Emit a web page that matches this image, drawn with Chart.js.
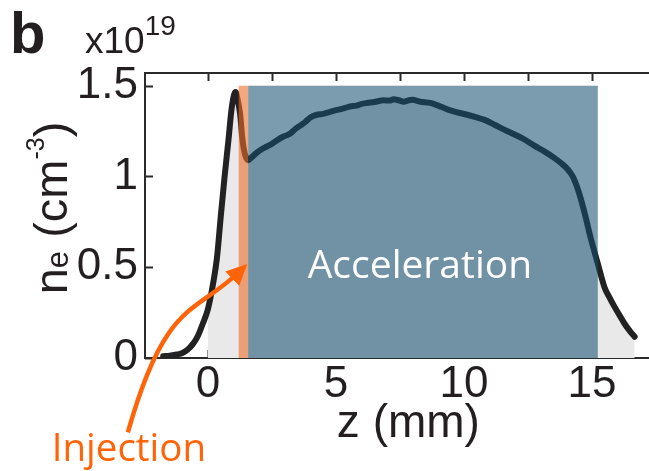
<!DOCTYPE html>
<html>
<head>
<meta charset="utf-8">
<script src="https://cdn.jsdelivr.net/npm/chart.js@4.4.1/dist/chart.umd.min.js"></script>
<style>
html,body{margin:0;padding:0;background:#fff;overflow:hidden}
canvas{display:block}
</style>
</head>
<body>
<canvas id="c" width="649" height="471"></canvas>
<script>
// ---- data ----
const zValues = [-1.75,-1.5,-1.2,-1.0,-0.8,-0.6,-0.4,-0.2,0.0,0.2,0.35,0.5,0.65,0.8,0.92,1.02,1.08,1.15,1.25,1.35,1.45,1.57,1.7,1.9,2.1,2.3,2.5,2.7,2.95,3.2,3.4,3.6,3.8,4.0,4.25,4.5,4.75,5.0,5.3,5.56,5.8,6.0,6.21,6.5,6.86,7.1,7.25,7.45,7.65,7.8,7.98,8.3,8.69,9.0,9.35,9.7,10.13,10.5,10.78,11.2,11.57,12.0,12.35,12.75,13.14,13.5,13.79,14.05,14.25,14.45,14.58,14.75,14.9,15.05,15.23,15.49,15.7,15.88,16.1,16.27,16.5,16.67];
const densityValues = [0.01,0.012,0.02,0.027,0.045,0.075,0.12,0.19,0.27,0.41,0.55,0.78,1.0,1.2,1.37,1.45,1.465,1.43,1.35,1.2,1.12,1.09,1.105,1.13,1.15,1.165,1.18,1.2,1.22,1.235,1.26,1.28,1.3,1.325,1.34,1.345,1.355,1.365,1.375,1.386,1.39,1.4,1.405,1.41,1.42,1.418,1.425,1.42,1.412,1.418,1.422,1.412,1.405,1.39,1.37,1.355,1.34,1.325,1.313,1.285,1.258,1.23,1.205,1.17,1.138,1.105,1.074,1.04,1.0,0.93,0.87,0.78,0.69,0.61,0.52,0.39,0.33,0.283,0.23,0.19,0.145,0.117];
const shadeFrom = 0;                       // grey fill under the profile starts here (mm)
const xTickValues = [0,2.5,5,7.5,10,12.5,15];
const xTickLabels = ['0','','5','','10','','15'];
const yTickValues = [0,0.5,1,1.5];
const yTickLabels = ['0','0.5','1','1.5'];
const regionNames = ['Injection','Acceleration'];
const regionStart = [1.2,1.57];
const regionEnd = [1.57,15.23];
const regionTop = [1.5,1.5];
const regionColors = ['rgba(238,110,40,0.6)','rgba(20,78,112,0.56)'];
// annotation anchors (data units)
const accelLabelAt = [8.28,0.44];
const injectLabelAt = [-3.09,-0.57];
const arrowZ = [-3.13,-1.65,-0.48,1.48];
const arrowN = [-0.41,0.33,0.24,0.51];

const AX_FONT = "'Liberation Sans', Arial, sans-serif";
const TXT_FONT = "'Open Sans', 'Noto Sans', sans-serif";
const AXIS_COLOR = '#2a2a2a';
const ORANGE = '#ff6408';

const profile = zValues.map((z,i)=>({x:z,y:densityValues[i]}));
const shaded = profile.filter(p=>p.x>=shadeFrom);

const decor = {
  id:'decor',
  beforeDatasetsDraw(chart){
    const {ctx, chartArea:a, scales:{x,y}} = chart;
    ctx.save();
    ctx.strokeStyle = AXIS_COLOR;
    ctx.lineWidth = 2;
    ctx.beginPath();
    ctx.moveTo(a.left, a.top); ctx.lineTo(a.right, a.top);
    ctx.moveTo(a.left, a.top-1); ctx.lineTo(a.left, a.bottom+1);
    ctx.moveTo(a.left-1, a.bottom); ctx.lineTo(a.right, a.bottom);
    xTickValues.forEach(v=>{
      const px = Math.round(x.getPixelForValue(v))+0.5;
      ctx.moveTo(px, a.bottom); ctx.lineTo(px, a.bottom-8);
      ctx.moveTo(px, a.top); ctx.lineTo(px, a.top+8);
    });
    yTickValues.forEach(v=>{
      const py = Math.round(y.getPixelForValue(v))+0.5;
      ctx.moveTo(a.left, py); ctx.lineTo(a.left+8, py);
    });
    ctx.stroke();
    ctx.restore();
  },
  afterDatasetsDraw(chart){
    const {ctx, scales:{x,y}} = chart;
    ctx.save();
    // shaded regions (drawn over the curve, semi-transparent)
    regionNames.forEach((n,i)=>{
      const x0 = x.getPixelForValue(regionStart[i]);
      const x1 = x.getPixelForValue(regionEnd[i]);
      const y0 = y.getPixelForValue(0);
      const y1 = y.getPixelForValue(regionTop[i]);
      ctx.fillStyle = regionColors[i];
      ctx.fillRect(x0, y1, x1-x0, y0-y1);
    });
    // Acceleration label
    ctx.fillStyle = '#ffffff';
    ctx.font = '39px ' + TXT_FONT;
    ctx.textAlign = 'center';
    ctx.textBaseline = 'alphabetic';
    ctx.fillText(regionNames[1], x.getPixelForValue(accelLabelAt[0]), y.getPixelForValue(accelLabelAt[1]));
    // Injection label
    ctx.fillStyle = ORANGE;
    ctx.font = '38.5px ' + TXT_FONT;
    ctx.fillText(regionNames[0], x.getPixelForValue(injectLabelAt[0]), y.getPixelForValue(injectLabelAt[1]));
    // arrow
    const P = arrowZ.map((z,i)=>[x.getPixelForValue(z), y.getPixelForValue(arrowN[i])]);
    ctx.strokeStyle = ORANGE;
    ctx.lineWidth = 4.5;
    ctx.lineCap = 'butt';
    const dx = P[3][0]-P[2][0], dy = P[3][1]-P[2][1];
    const L = Math.hypot(dx,dy), ux = dx/L, uy = dy/L;
    const headLen = 21, headW = 10;
    ctx.beginPath();
    ctx.moveTo(P[0][0],P[0][1]);
    ctx.bezierCurveTo(P[1][0],P[1][1],P[2][0],P[2][1],P[3][0]-ux*8,P[3][1]-uy*8);
    ctx.stroke();
    const tx = P[3][0]+ux*2, ty = P[3][1]+uy*2;
    const bx = tx-ux*headLen, by = ty-uy*headLen;
    ctx.fillStyle = ORANGE;
    ctx.beginPath();
    ctx.moveTo(tx,ty);
    ctx.lineTo(bx-uy*headW, by+ux*headW);
    ctx.lineTo(bx+uy*headW, by-ux*headW);
    ctx.closePath();
    ctx.fill();
    ctx.restore();
  },
  afterDraw(chart){
    const {ctx, chartArea:a, scales:{x}} = chart;
    ctx.save();
    ctx.fillStyle = '#231f20';
    ctx.textBaseline = 'alphabetic';
    // panel letter
    ctx.font = 'bold 58px ' + AX_FONT;
    ctx.textAlign = 'left';
    ctx.fillText('b', 10, 53);
    // exponent
    ctx.font = '37px ' + AX_FONT;
    ctx.fillText('x10', 85, 53);
    const w = ctx.measureText('x10').width;
    ctx.font = '28px ' + AX_FONT;
    ctx.fillText('19', 85+w, 35);
    // x title
    ctx.font = '46px ' + AX_FONT;
    ctx.textAlign = 'center';
    ctx.fillText('z (mm)', x.getPixelForValue(7.83), 437);
    // y title (rotated, with sub/superscripts)
    const parts = [
      {t:'n', s:47, d:0},
      {t:'e', s:31, d:1},
      {t:' (cm', s:47, d:0},
      {t:'-3', s:25, d:-23},
      {t:')', s:47, d:0}
    ];
    ctx.translate(67, 208);
    ctx.rotate(-Math.PI/2);
    ctx.textAlign = 'left';
    let total = 0;
    parts.forEach(p=>{ctx.font = p.s+'px '+AX_FONT; p.w = ctx.measureText(p.t).width; total += p.w;});
    let cx = -total/2;
    parts.forEach(p=>{ctx.font = p.s+'px '+AX_FONT; ctx.fillText(p.t, cx, p.d); cx += p.w;});
    ctx.restore();
  }
};

new Chart(document.getElementById('c'), {
  type:'line',
  data:{
    datasets:[
      {data:profile, borderColor:'#222222', borderWidth:6, pointRadius:0,
       cubicInterpolationMode:'monotone', borderCapStyle:'round', borderJoinStyle:'round',
       fill:false, order:1},
      {data:shaded, borderWidth:0, borderColor:'rgba(0,0,0,0)', pointRadius:0,
       cubicInterpolationMode:'monotone', backgroundColor:'#e9e9e9', fill:'origin', order:2}
    ]
  },
  options:{
    responsive:false,
    animation:false,
    devicePixelRatio:1,
    layout:{padding:{top:73,right:0,left:0,bottom:0}},
    plugins:{legend:{display:false}, tooltip:{enabled:false}},
    scales:{
      x:{
        type:'linear', min:-2.46, max:17.23,
        afterFit(s){ s.height = 113; },
        afterBuildTicks(s){ s.ticks = xTickValues.map(v=>({value:v})); },
        grid:{display:false, drawTicks:false},
        border:{display:false},
        ticks:{autoSkip:false, maxRotation:0, minRotation:0, padding:5, color:'#231f20',
               font:{family:AX_FONT, size:44, lineHeight:1},
               callback:(v,i)=>xTickLabels[i]}
      },
      y:{
        type:'linear', min:0, max:1.57,
        afterFit(s){ s.width = 145; },
        afterBuildTicks(s){ s.ticks = yTickValues.map(v=>({value:v})); },
        grid:{display:false, drawTicks:false},
        border:{display:false},
        ticks:{autoSkip:false, padding:7, color:'#231f20',
               font:{family:AX_FONT, size:44, lineHeight:1},
               callback:(v,i)=>yTickLabels[i]}
      }
    }
  },
  plugins:[decor]
});
</script>
</body>
</html>
